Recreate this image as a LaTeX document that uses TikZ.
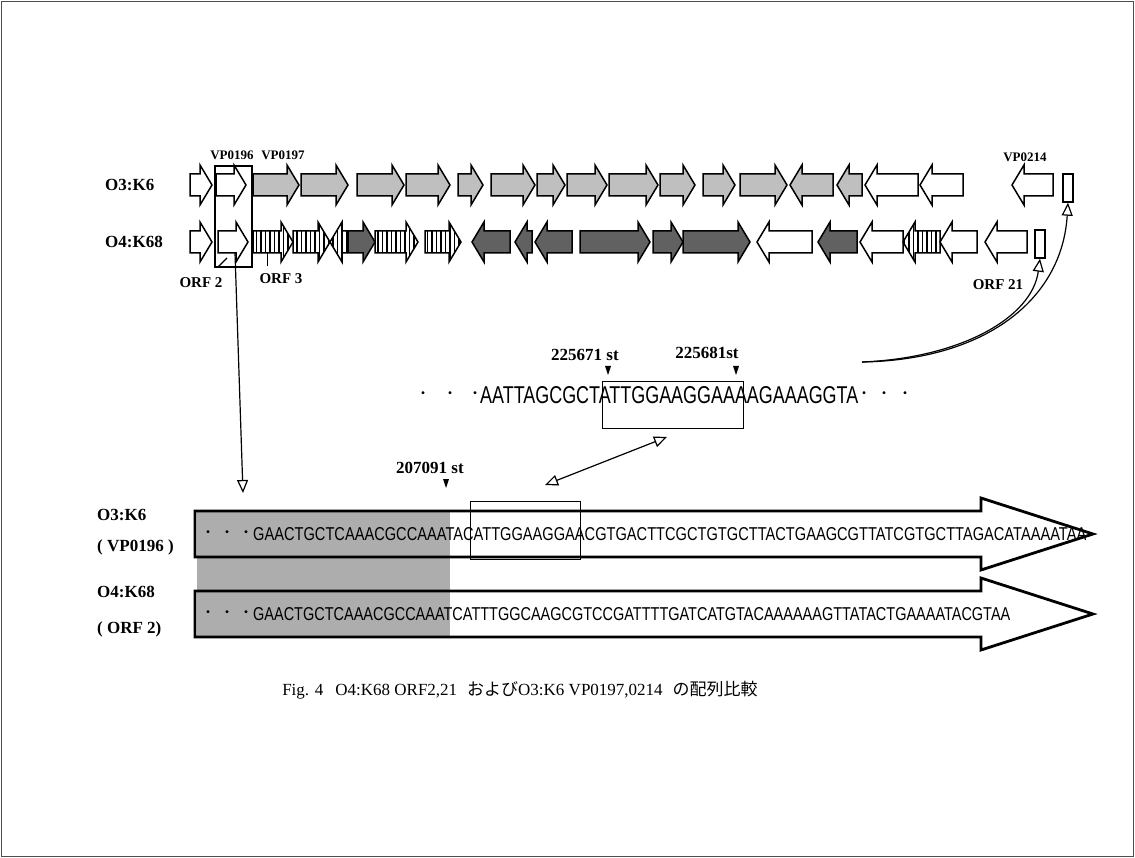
\documentclass[tikz,border=0pt]{standalone}
\usepackage{fontspec}
\usepackage{graphicx}
\setmainfont{Liberation Serif}
\newfontfamily\seqfont{Liberation Sans}
\newfontfamily\jpfont{Noto Sans CJK JP}
\usetikzlibrary{arrows.meta,patterns.meta}
\newcommand\geneR[4]{\path[#4] (#1,#3-11) -- (#2-12,#3-11) -- (#2-12,#3-20) -- (#2,#3) -- (#2-12,#3+20) -- (#2-12,#3+11) -- (#1,#3+11) -- cycle;}
\newcommand\geneL[4]{\path[#4] (#2,#3-11) -- (#1+12,#3-11) -- (#1+12,#3-20) -- (#1,#3) -- (#1+12,#3+20) -- (#1+12,#3+11) -- (#2,#3+11) -- cycle;}
\begin{document}
\begin{tikzpicture}[x=1pt,y=-1pt,
  gb/.style={draw=black,line width=1.5pt,line join=miter},
  wg/.style={gb,fill=white},
  gg/.style={gb,fill=black!25},
  dg/.style={gb,fill=black!62},
  sg/.style={gb,preaction={fill=white},pattern={Lines[angle=90,distance=4.5pt,line width=1.5pt]}},
  lab/.style={font=\fontsize{17}{17}\bfseries\selectfont,inner sep=0pt},
  vplab/.style={font=\fontsize{13}{13}\bfseries\selectfont,inner sep=0pt},
  orflab/.style={font=\fontsize{15}{15}\bfseries\selectfont,inner sep=0pt},
  poslab/.style={font=\fontsize{17}{17}\bfseries\selectfont,inner sep=0pt},
  dotlab/.style={font=\jpfont\fontsize{14}{14}\selectfont,inner sep=0pt},
  thinbox/.style={draw,line width=1pt,inner sep=0pt},
  opentip/.style={-{Triangle[open,length=13pt,width=11pt]}},
  conn/.style={line width=1.2pt},
  seqarrow/.style={draw,line width=2.8pt,line join=miter}]
\useasboundingbox (0,0) rectangle (1135,858);
\fill[white] (0,0) rectangle (1135,858);
\draw[black!70,line width=1pt] (1.5,1.5) rectangle (1133.5,856.5);

% ---------- row 1 : O3:K6 ----------
\node[lab,anchor=west] (r1lab) at (105,185) {O3:K6};
\geneR{190}{212}{185}{wg}
\geneR{216}{246}{185}{wg}
\geneR{253}{299}{185}{gg}
\geneR{301}{348}{185}{gg}
\geneR{357}{404}{185}{gg}
\geneR{406}{450}{185}{gg}
\geneR{458}{483}{185}{gg}
\geneR{491}{535}{185}{gg}
\geneR{537}{565}{185}{gg}
\geneR{567}{607}{185}{gg}
\geneR{609}{658}{185}{gg}
\geneR{660}{695}{185}{gg}
\geneR{703}{735}{185}{gg}
\geneR{740}{787}{185}{gg}
\geneL{790}{833}{185}{gg}
\geneL{837}{862}{185}{gg}
\geneL{865}{918}{185}{wg}
\geneL{920}{963}{185}{wg}
\geneL{1012}{1053}{185}{wg}
\node[draw,line width=1.4pt,minimum width=10pt,minimum height=28pt,inner sep=0pt] (rect1) at (1068,188) {};

% ---------- row 2 : O4:K68 ----------
\node[lab,anchor=west] (r2lab) at (105,242) {O4:K68};
\geneR{190}{212}{242}{wg}
\geneR{218}{248}{242}{wg}
\geneR{253}{293}{242}{sg}
\geneR{293}{330}{242}{sg}
\geneL{330}{347}{242}{sg}
\geneR{348}{375}{242}{dg}
\geneR{375}{418}{242}{sg}
\geneR{425}{461}{242}{sg}
\geneL{472}{510}{242}{dg}
\geneL{515}{532}{242}{dg}
\geneL{535}{572}{242}{dg}
\geneR{580}{650}{242}{dg}
\geneR{653}{683}{242}{dg}
\geneR{683}{750}{242}{dg}
\geneL{757}{812}{242}{wg}
\geneL{818}{857}{242}{dg}
\geneL{860}{903}{242}{wg}
\geneL{903}{940}{242}{sg}
\geneL{940}{977}{242}{wg}
\geneL{985}{1027}{242}{wg}
\node[draw,line width=1.4pt,minimum width=10pt,minimum height=28pt,inner sep=0pt] (rect2) at (1040,244) {};

% labels of the gene map
\node[vplab] (vp196) at (232,155) {VP0196};
\node[vplab] (vp197) at (283,155) {VP0197};
\node[vplab] (vp214) at (1025,157) {VP0214};
\node[orflab] (orf2) at (201,283) {ORF 2};
\node[orflab] (orf3) at (281,279) {ORF 3};
\node[orflab] (orf21) at (998,285) {ORF 21};
\draw[line width=1pt] (267,253) -- (267,266);

% box round VP0196 / ORF 2
\node[draw,line width=1.2pt,minimum width=37pt,minimum height=101pt,inner sep=0pt] (vpbox) at (233.5,216.5) {};
\draw[line width=1.2pt] (218,267) -- (227,258);

% ---------- middle sequence ----------
\node[dotlab] (md1) at (423,395) {・};
\node[dotlab] (md2) at (450,395) {・};
\node[dotlab] (md3) at (475,395) {・};
\node[inner sep=0pt,anchor=west] (mseq) at (480,395) {\resizebox{378pt}{17pt}{\seqfont AATTAGCGCTATTGGAAGGAAAAGAAAGGTA}};
\node[dotlab] (md4) at (864,395) {・};
\node[dotlab] (md5) at (884,395) {・};
\node[dotlab] (md6) at (905,395) {・};
\node[thinbox,minimum width=141pt,minimum height=46pt] (mbox) at (672.5,405) {};
\node[poslab] (p671) at (585,355) {225671 st};
\node[poslab] (p681) at (707,353) {225681st};
\fill (605,366) -- (611,366) -- (608,375) -- cycle;
\fill (733,366) -- (739,366) -- (736,375) -- cycle;

% curves to VP0214 / ORF 21
\coordinate (cs) at (862,362);
\draw[conn,opentip] (cs) .. controls (985,360) and (1062,300) .. (rect1.south);
\draw[conn,opentip] (cs) .. controls (960,358) and (1032,318) .. (rect2.south);

% ---------- lower sequence arrows ----------
\fill[black!32] (197,511) rectangle (450,637);
\path[seqarrow] (195,511) -- (981,511) -- (981,498) -- (1093,534) -- (981,570) -- (981,557) -- (195,557) -- cycle;
\path[seqarrow] (195,591) -- (981,591) -- (981,578) -- (1093,614) -- (981,650) -- (981,637) -- (195,637) -- cycle;
\node[dotlab] (ld1) at (208,534) {・};
\node[dotlab] (ld2) at (227,534) {・};
\node[dotlab] (ld3) at (246,534) {・};
\node[inner sep=0pt,anchor=west] (seq1) at (253,534) {\resizebox{833pt}{13pt}{\seqfont GAACTGCTCAAACGCCAAATACATTGGAAGGAACGTGACTTCGCTGTGCTTACTGAAGCGTTATCGTGCTTAGACATAAAATAA}};
\node[dotlab] (ld4) at (208,614) {・};
\node[dotlab] (ld5) at (227,614) {・};
\node[dotlab] (ld6) at (246,614) {・};
\node[inner sep=0pt,anchor=west] (seq2) at (253,614) {\resizebox{757pt}{13pt}{\seqfont GAACTGCTCAAACGCCAAATCATTTGGCAAGCGTCCGATTTTGATCATGTACAAAAAAGTTATACTGAAAATACGTAA}};
\node[thinbox,minimum width=110pt,minimum height=58pt] (lbox) at (525,530) {};

\node[lab,anchor=west] (l1a) at (97,515) {O3:K6};
\node[lab,anchor=west] (l1b) at (97,547) {( VP0196 )};
\node[lab,anchor=west] (l2a) at (97,592) {O4:K68};
\node[lab,anchor=west] (l2b) at (97,629) {( ORF 2)};

\node[poslab] (p091) at (430,468) {207091 st};
\fill (443,479) -- (449,479) -- (446,488) -- cycle;

% connectors
\coordinate (ds) at (235,253);
\coordinate (de) at (243,493);
\draw[conn,opentip] (ds) -- (de);
\coordinate (da1) at (545,485);
\coordinate (da2) at (667,437);
\draw[conn,{Triangle[open,length=13pt,width=11pt]}-{Triangle[open,length=13pt,width=11pt]}] (da1) -- (da2);

% caption
\node[font=\fontsize{17}{17}\selectfont,inner sep=0pt] (cap) at (520,690) {Fig. 4\hspace{12pt}O4:K68 ORF2,21\hspace{10pt}{\jpfont および}O3:K6 VP0197,0214\hspace{10pt}{\jpfont の配列比較}};
\end{tikzpicture}
\end{document}
